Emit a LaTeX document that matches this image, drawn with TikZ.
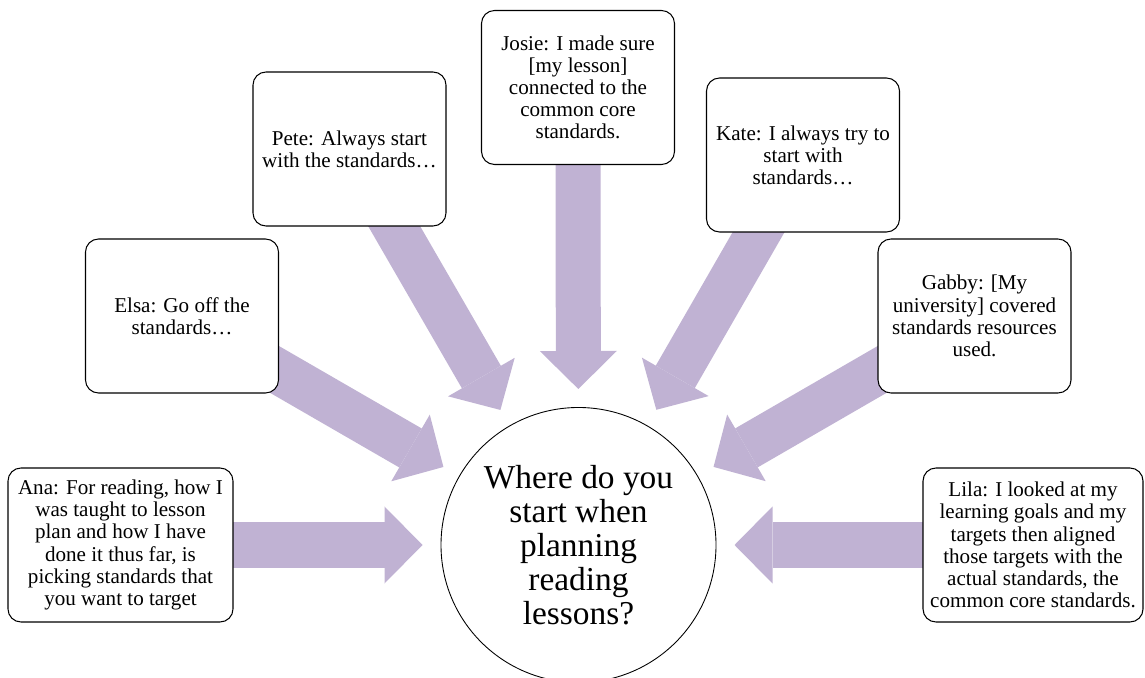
\documentclass[tikz,border=0pt]{standalone}
\usepackage{fontspec}
\setmainfont{Liberation Serif}
\usetikzlibrary{arrows.meta,calc,backgrounds}
\definecolor{lilac}{RGB}{192,178,211}
\tikzset{
  quote/.style={draw, rounded corners=0.26cm, fill=white, line width=0.6pt,
    minimum width=3.86cm, minimum height=3.08cm, align=center, inner sep=2pt,
    font=\fontsize{12}{12.6}\selectfont},
  quest/.style={draw, circle, minimum size=5.5cm, inner sep=0pt, line width=0.5pt,
    align=center, font=\fontsize{19}{19.4}\selectfont},
  flow/.style={draw=lilac, line width=0.9cm,
    -{Triangle[length=0.76cm,width=1.54cm,line width=0pt]}}
}
\begin{document}
\begin{tikzpicture}[line join=round]
			\useasboundingbox (0,0) rectangle (22.9,13.54);
			\node[quest] (Q) at (11.57,2.64) {Where do you\\start when\\planning\\reading\\lessons?};
			\node[quote, minimum width=4.5cm] (Ana) at (2.41,2.64) {Ana: For reading, how I\\was taught to lesson\\plan and how I have\\done it thus far, is\\picking standards that\\you want to target};
			\node[quote] (Elsa) at (3.64,7.22) {Elsa: Go off the\\standards…};
			\node[quote] (Pete) at (6.99,10.56) {Pete: Always start\\with the standards…};
			\node[quote] (Josie) at (11.56,11.79) {Josie: I made sure\\{[my lesson]}\\connected to the\\common core\\standards.};
			\node[quote] (Kate) at (16.06,10.44) {Kate: I always try to\\start with\\standards…};
			\node[quote] (Gabby) at (19.49,7.22) {Gabby: [My\\university] covered\\standards resources\\used.};
			\node[quote, minimum width=4.4cm] (Lila) at (20.66,2.64) {Lila: I looked at my\\learning goals and my\\targets then aligned\\those targets with the\\actual standards, the\\common core standards.};
			% block arrows towards the question
			\begin{scope}[on background layer]
				\foreach \p in {Ana,Elsa,Pete,Josie,Kate,Gabby,Lila}
					\draw[flow] (\p.center) -- ($(Q.center)!3.12cm!(\p.center)$);
			\end{scope}
		\end{tikzpicture}
\end{document}
